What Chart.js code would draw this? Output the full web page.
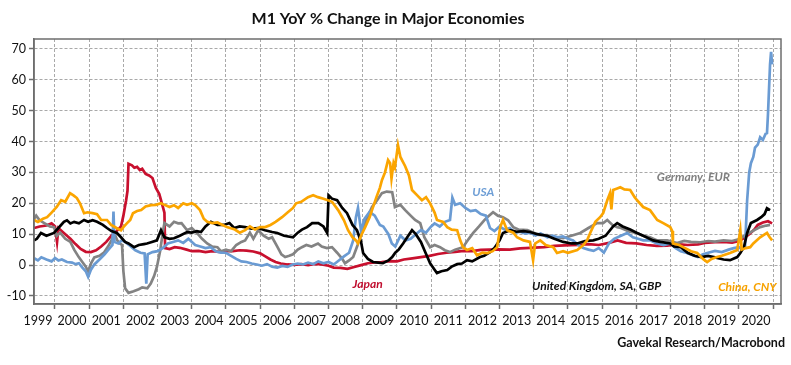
<!DOCTYPE html>
<html>
<head>
<meta charset="utf-8">
<script src="https://cdn.jsdelivr.net/npm/chart.js@4/dist/chart.umd.min.js"></script>
<style>
  html, body { margin: 0; padding: 0; background: #fff; }
  #wrap { width: 791px; height: 365px; }
</style>
</head>
<body>
<div id="wrap"><canvas id="chart" width="791" height="365"></canvas></div>
<script>
// M1 YoY % change
// each point is [fractional year, % yoy]

const japan = [[1999.39,12.0],[1999.55,12.5],[1999.75,12.8],[1999.9,13.5],[2000.0,12.5],[2000.06,7.5],[2000.1,12.0],[2000.25,10.5],[2000.45,8.5],[2000.6,6.8],[2000.75,5.2],[2000.9,4.3],[2001.05,4.2],[2001.2,4.8],[2001.35,6.0],[2001.5,7.5],[2001.65,9.5],[2001.8,11.0],[2001.93,12.5],[2002.0,16],[2002.08,21],[2002.12,24],[2002.15,32.8],[2002.25,32.3],[2002.32,31.5],[2002.4,31.8],[2002.48,30.8],[2002.55,31.2],[2002.65,29.5],[2002.75,29],[2002.85,28.2],[2002.95,25],[2003.05,23],[2003.15,19],[2003.2,17],[2003.22,5.5],[2003.35,5.2],[2003.5,5.8],[2003.65,5.6],[2003.85,5.0],[2004.0,4.5],[2004.2,4.6],[2004.4,4.2],[2004.6,4.5],[2004.8,4.3],[2005.0,4.6],[2005.2,4.5],[2005.4,4.8],[2005.6,4.7],[2005.8,4.4],[2006.0,3.8],[2006.15,2.8],[2006.3,1.8],[2006.45,1.0],[2006.6,0.5],[2006.8,0.2],[2007.0,0.1],[2007.2,0.3],[2007.4,0.0],[2007.6,0.4],[2007.8,0.2],[2008.0,-0.2],[2008.15,-0.8],[2008.35,-0.9],[2008.55,-1.2],[2008.75,-0.6],[2008.95,0],[2009.15,0.6],[2009.35,0.9],[2009.55,1.0],[2009.8,1.3],[2010.0,1.2],[2010.2,1.8],[2010.45,2.2],[2010.7,2.6],[2010.95,3.0],[2011.2,3.6],[2011.45,4.0],[2011.7,4.3],[2011.95,4.6],[2012.2,4.5],[2012.45,4.9],[2012.7,5.0],[2012.95,5.1],[2013.3,5.0],[2013.6,5.4],[2013.9,5.6],[2014.3,5.8],[2014.6,6.2],[2014.9,6.4],[2015.3,6.5],[2015.6,6.8],[2015.9,6.5],[2016.2,7.2],[2016.45,8.0],[2016.7,7.2],[2017.0,7.0],[2017.3,6.5],[2017.6,6.2],[2017.9,6.3],[2018.2,6.8],[2018.5,6.5],[2018.8,6.7],[2019.0,7.2],[2019.3,7.4],[2019.55,7.5],[2019.8,7.3],[2020.0,7.8],[2020.15,8.7],[2020.3,10],[2020.45,11.5],[2020.55,13],[2020.7,13.8],[2020.85,14.2],[2020.97,13.5]];

const usa = [[1999.39,2.2],[1999.5,1.5],[1999.6,2.5],[1999.75,1.8],[1999.9,1.2],[2000.0,2.3],[2000.1,1.5],[2000.2,1.8],[2000.35,1.0],[2000.5,0.8],[2000.6,0.3],[2000.7,0.6],[2000.8,-0.8],[2000.9,-2.0],[2000.97,-3.8],[2001.05,-1.5],[2001.15,0.2],[2001.3,1.8],[2001.45,3.5],[2001.6,5.5],[2001.68,6.5],[2001.71,17.3],[2001.74,7.5],[2001.85,7.0],[2001.95,8.0],[2002.05,7.5],[2002.2,6.2],[2002.35,4.8],[2002.5,4.0],[2002.62,3.8],[2002.67,-6.0],[2002.71,3.5],[2002.85,4.2],[2003.0,4.5],[2003.15,5.5],[2003.3,7.0],[2003.45,7.5],[2003.6,8.0],[2003.75,7.2],[2003.9,8.5],[2004.1,6.5],[2004.25,6.0],[2004.4,5.5],[2004.55,5.8],[2004.7,4.5],[2004.85,4.0],[2005.0,4.0],[2005.15,3.0],[2005.3,2.0],[2005.45,1.2],[2005.6,1.0],[2005.75,0.5],[2005.9,0.2],[2006.05,-0.2],[2006.2,0.3],[2006.35,-0.5],[2006.5,-0.8],[2006.65,-0.3],[2006.8,-0.6],[2006.95,0.2],[2007.1,0.5],[2007.25,0.2],[2007.4,0.8],[2007.55,0.3],[2007.7,1.2],[2007.85,0.6],[2008.0,1.0],[2008.15,0.2],[2008.3,1.5],[2008.45,2.8],[2008.6,4.0],[2008.72,8.0],[2008.8,15.5],[2008.86,18.5],[2008.95,11],[2009.05,15],[2009.2,17.2],[2009.35,16],[2009.5,13],[2009.6,12.5],[2009.75,10],[2009.85,7],[2009.95,6.0],[2010.1,9.5],[2010.25,8],[2010.4,8.5],[2010.55,10],[2010.7,11.3],[2010.85,10.5],[2011.0,12.5],[2011.1,13.5],[2011.25,12.5],[2011.4,14],[2011.55,14.6],[2011.62,21.8],[2011.7,19.5],[2011.85,20],[2012.0,18.5],[2012.15,17.5],[2012.3,17.8],[2012.45,16.5],[2012.6,16.0],[2012.72,12],[2012.85,11],[2013.0,12.5],[2013.15,11.5],[2013.3,12],[2013.45,10.4],[2013.6,10.8],[2013.75,10.2],[2013.9,10.5],[2014.05,9.6],[2014.2,10.2],[2014.4,9.0],[2014.55,9.5],[2014.7,9.0],[2014.85,9.3],[2015.0,8.5],[2015.15,8.0],[2015.3,6.5],[2015.45,5.5],[2015.6,5.0],[2015.75,4.6],[2015.9,5.5],[2016.05,4.0],[2016.2,7.0],[2016.35,8.5],[2016.55,9.5],[2016.73,10.4],[2016.9,9.0],[2017.05,8.5],[2017.2,8.0],[2017.4,8.0],[2017.6,7.0],[2017.8,6.5],[2018.0,7.0],[2018.15,5.5],[2018.3,4.5],[2018.48,3.9],[2018.65,3.2],[2018.8,2.6],[2018.95,3.5],[2019.1,4.0],[2019.3,4.6],[2019.5,4.2],[2019.7,5.0],[2019.85,5.5],[2020.0,5.8],[2020.1,5.0],[2020.18,6.0],[2020.24,21],[2020.3,30],[2020.35,33],[2020.42,35],[2020.47,38],[2020.55,39],[2020.62,41.4],[2020.7,40.5],[2020.78,42.5],[2020.82,42.7],[2020.85,49],[2020.91,65],[2020.94,69],[2020.97,65]];

const germany = [[1999.39,15],[1999.45,16],[1999.55,14.5],[1999.7,13.5],[1999.85,12.5],[1999.97,12.3],[2000.05,9.5],[2000.15,10.5],[2000.3,8.5],[2000.45,7.5],[2000.56,5.0],[2000.7,2.5],[2000.8,1.0],[2000.9,-0.5],[2000.97,-2.0],[2001.05,0.5],[2001.15,2.5],[2001.3,3.0],[2001.43,4.0],[2001.55,6.0],[2001.65,8.0],[2001.73,10.5],[2001.82,8.0],[2001.9,7.0],[2001.96,6.5],[2002.0,-2],[2002.05,-7.5],[2002.15,-9.0],[2002.3,-8.5],[2002.45,-7.8],[2002.55,-7.2],[2002.7,-7.5],[2002.8,-6.0],[2002.9,-3.5],[2002.98,-0.6],[2003.08,4.9],[2003.15,10.5],[2003.2,13.6],[2003.35,12.5],[2003.48,14.0],[2003.6,13.5],[2003.7,13.6],[2003.86,11.3],[2004.0,12.0],[2004.15,10.4],[2004.3,8.5],[2004.45,7.0],[2004.6,6.0],[2004.75,5.8],[2004.85,4.5],[2005.0,5.0],[2005.15,4.5],[2005.3,6.5],[2005.45,7.5],[2005.56,8.0],[2005.7,10.5],[2005.8,8.5],[2005.94,11.3],[2006.1,9.5],[2006.25,8.5],[2006.35,9.0],[2006.5,6.0],[2006.62,3.5],[2006.73,2.6],[2006.85,3.0],[2006.96,3.5],[2007.1,5.0],[2007.22,5.8],[2007.35,6.5],[2007.5,6.0],[2007.69,7.0],[2007.8,6.0],[2007.95,5.5],[2008.1,5.8],[2008.25,4.0],[2008.4,2.0],[2008.48,0.6],[2008.6,1.5],[2008.72,2.6],[2008.85,6.5],[2008.98,11.3],[2009.1,14.5],[2009.27,18.8],[2009.42,21],[2009.56,23.3],[2009.7,23.8],[2009.86,23.6],[2009.94,18.8],[2010.1,19.5],[2010.24,17.8],[2010.4,16],[2010.53,14.6],[2010.68,13.6],[2010.8,9.0],[2010.97,5.8],[2011.1,6.5],[2011.26,5.8],[2011.4,4.8],[2011.55,4.2],[2011.7,5.0],[2011.93,5.8],[2012.1,8.5],[2012.23,10.4],[2012.4,12.5],[2012.55,14.5],[2012.64,15.5],[2012.81,17.1],[2012.95,16.0],[2013.1,15.5],[2013.25,14.5],[2013.4,12.3],[2013.55,11.5],[2013.81,11.3],[2014.0,10.5],[2014.15,9.8],[2014.39,9.7],[2014.6,9.0],[2014.86,8.7],[2015.1,9.5],[2015.36,10.4],[2015.6,12.0],[2015.85,13.6],[2016.03,13.6],[2016.15,14.6],[2016.3,13],[2016.44,12.3],[2016.55,12.0],[2016.8,10.8],[2017.02,10.4],[2017.2,9.5],[2017.4,9.0],[2017.61,8.0],[2017.9,8.0],[2018.19,7.1],[2018.4,7.8],[2018.6,7.5],[2018.87,7.4],[2019.1,7.8],[2019.3,7.6],[2019.55,8.0],[2019.8,7.8],[2020.04,8.5],[2020.15,9.5],[2020.3,10.4],[2020.45,11.3],[2020.62,12.3],[2020.8,12.8],[2020.91,13]];

const uk = [[1999.39,8],[1999.47,8.5],[1999.59,10.4],[1999.75,9.5],[1999.97,10.4],[2000.1,12],[2000.26,14],[2000.35,14.5],[2000.45,13.5],[2000.56,14],[2000.7,13.5],[2000.85,14.6],[2000.97,14.0],[2001.1,14.5],[2001.23,14],[2001.4,13.0],[2001.52,12],[2001.65,11.0],[2001.81,10.4],[2001.93,9.0],[2002.05,7.5],[2002.15,7.0],[2002.31,5.8],[2002.45,6.5],[2002.6,6.8],[2002.69,7.0],[2002.81,7.4],[2002.98,8.0],[2003.1,11.3],[2003.2,9.0],[2003.35,8.5],[2003.48,8.7],[2003.65,9.5],[2003.86,10.7],[2004.0,10.5],[2004.15,11],[2004.27,10.7],[2004.4,12.5],[2004.56,14.0],[2004.75,13.0],[2004.94,13.0],[2005.1,13.6],[2005.24,12.0],[2005.4,12.5],[2005.56,12.3],[2005.75,11.8],[2005.94,12.0],[2006.14,11.3],[2006.35,10.7],[2006.5,10.4],[2006.7,9.5],[2006.96,9.0],[2007.1,10.5],[2007.22,11.5],[2007.37,12.3],[2007.52,13.6],[2007.7,13.6],[2007.85,12.5],[2007.96,10.4],[2008.0,22.6],[2008.1,21.5],[2008.25,21],[2008.4,18.5],[2008.54,16.8],[2008.7,13],[2008.83,11.3],[2008.95,7.5],[2009.01,3.9],[2009.15,2.0],[2009.3,1.0],[2009.45,0.8],[2009.59,0.6],[2009.75,1.5],[2009.86,2.6],[2009.95,4.0],[2010.05,5.0],[2010.18,7.0],[2010.3,9.0],[2010.44,11.3],[2010.55,10],[2010.7,7.5],[2010.8,4.9],[2010.97,0.6],[2011.1,-1.5],[2011.17,-2.6],[2011.3,-2.0],[2011.47,-1.6],[2011.6,-0.5],[2011.76,0.3],[2011.9,0.5],[2012.05,1.6],[2012.2,1.2],[2012.43,2.6],[2012.55,3.0],[2012.72,4.2],[2012.85,5.5],[2013.0,8],[2013.1,10.4],[2013.31,11.3],[2013.5,10.8],[2013.7,11.0],[2013.89,10.7],[2014.1,10.0],[2014.39,9.5],[2014.6,8.5],[2014.86,7.5],[2015.1,7.0],[2015.27,7.0],[2015.5,7.8],[2015.74,8.0],[2015.9,8.5],[2016.1,9.5],[2016.32,12.5],[2016.44,13.6],[2016.6,12.5],[2016.82,11.5],[2017.02,10.4],[2017.2,9.5],[2017.49,8.0],[2017.7,7.5],[2017.99,7.0],[2018.1,6.0],[2018.3,5.8],[2018.5,4.0],[2018.7,3.0],[2018.9,2.6],[2019.1,3.0],[2019.3,2.5],[2019.55,1.8],[2019.74,1.6],[2019.95,2.6],[2020.04,3.9],[2020.15,6.0],[2020.24,10.4],[2020.35,13.6],[2020.53,14.6],[2020.65,15.5],[2020.75,16.5],[2020.82,18.4],[2020.91,17.8]];

const china = [[1999.39,14.6],[1999.5,14.0],[1999.65,15.0],[1999.77,15.5],[1999.9,17.0],[2000.05,18.8],[2000.18,21],[2000.3,20.5],[2000.44,23.3],[2000.55,22.5],[2000.64,21.7],[2000.73,20],[2000.85,16.8],[2000.95,17.1],[2001.1,16.8],[2001.23,16.5],[2001.35,14.6],[2001.52,14.6],[2001.64,13],[2001.8,12.0],[2001.93,11.3],[2002.0,12.3],[2002.1,13.5],[2002.2,14.6],[2002.28,16.8],[2002.4,17.5],[2002.52,17.8],[2002.65,19.0],[2002.81,19.4],[2002.95,19.5],[2003.1,20],[2003.2,19.5],[2003.35,18.8],[2003.48,19.4],[2003.6,18.5],[2003.75,20],[2003.86,19.5],[2004.0,20],[2004.1,19.4],[2004.24,17.8],[2004.35,15.0],[2004.45,14.0],[2004.6,13.6],[2004.75,13.8],[2004.9,13.0],[2005.03,12.3],[2005.12,12.0],[2005.26,11.5],[2005.4,10.5],[2005.56,11.3],[2005.7,12.5],[2005.85,11.5],[2006.0,12.3],[2006.15,12.3],[2006.3,13.0],[2006.45,14.0],[2006.64,15.5],[2006.8,17.0],[2006.96,18.5],[2007.05,20],[2007.2,20.5],[2007.4,22],[2007.55,22.6],[2007.69,22],[2007.85,21.5],[2007.98,21],[2008.1,20.5],[2008.28,17.8],[2008.45,14.5],[2008.57,11.3],[2008.7,9.0],[2008.8,8],[2008.86,7],[2008.95,9.5],[2009.07,12.3],[2009.2,15.5],[2009.27,17.8],[2009.4,22],[2009.5,25],[2009.56,27.5],[2009.65,30],[2009.74,34],[2009.8,33],[2009.84,28],[2009.9,33],[2009.94,31.7],[2010.03,38.8],[2010.1,35],[2010.24,32],[2010.35,29],[2010.44,24.3],[2010.6,22.5],[2010.73,21],[2010.85,22],[2010.97,20],[2011.1,17],[2011.17,14.6],[2011.35,14],[2011.47,12.3],[2011.6,11.5],[2011.76,11.3],[2011.85,8],[2011.93,5.8],[2012.05,4.9],[2012.2,5.5],[2012.34,3.2],[2012.5,4.0],[2012.64,3.9],[2012.8,4.5],[2012.93,5.8],[2013.02,12.3],[2013.1,14.6],[2013.22,11.3],[2013.4,10.5],[2013.51,9.0],[2013.7,8.0],[2013.89,7.5],[2013.98,1.6],[2014.04,7.0],[2014.19,8.0],[2014.35,6.5],[2014.57,5.8],[2014.68,3.9],[2014.86,4.5],[2015.0,4.0],[2015.27,4.9],[2015.45,6.5],[2015.56,8],[2015.65,10.4],[2015.8,14],[2015.94,15.5],[2016.03,16.8],[2016.15,21],[2016.23,23.3],[2016.27,18],[2016.32,24.3],[2016.44,24.8],[2016.53,25.2],[2016.65,24.5],[2016.82,24.3],[2016.95,22],[2017.02,21],[2017.2,18.8],[2017.4,17.8],[2017.61,14.6],[2017.8,13.5],[2017.99,12.3],[2018.05,11],[2018.07,7],[2018.25,6.5],[2018.37,5.8],[2018.6,4.5],[2018.78,3.9],[2018.95,2.0],[2019.07,1.0],[2019.2,2.0],[2019.36,2.6],[2019.5,3.0],[2019.74,3.9],[2019.95,4.9],[2020.04,11.3],[2020.08,5.0],[2020.2,5.5],[2020.33,5.8],[2020.42,7.0],[2020.62,9.0],[2020.82,10.4],[2020.9,9.0],[2020.97,8.0]];

const yTicks = [-10, 0, 10, 20, 30, 40, 50, 60, 70];
const yearBounds = [2000, 2001, 2002, 2003, 2004, 2005, 2006, 2007, 2008, 2009, 2010,
  2011, 2012, 2013, 2014, 2015, 2016, 2017, 2018, 2019, 2020, 2021];
const yearLabels = [1999, 2000, 2001, 2002, 2003, 2004, 2005, 2006, 2007, 2008, 2009,
  2010, 2011, 2012, 2013, 2014, 2015, 2016, 2017, 2018, 2019, 2020];

const FONT = 'Lato, "Open Sans", sans-serif';
const GRID = '#a9a9a9';
const AXIS = '#6e6e6e';

// series name labels placed in data coordinates
const seriesLabels = [
  { text: 'USA', x: 2012.2, y: 23.6, color: '#6f9fd6', align: 'left' },
  { text: 'Germany, EUR', x: 2017.6, y: 28.5, color: '#7f7f7f', align: 'left' },
  { text: 'Japan', x: 2008.7, y: -6.3, color: '#c00d2e', align: 'left' },
  { text: 'United Kingdom, SA, GBP', x: 2013.95, y: -6.8, color: '#111', align: 'left' },
  { text: 'China, CNY', x: 2021.1, y: -7.1, color: '#f7a200', align: 'right' }
];

const toXY = arr => arr.map(p => ({ x: p[0], y: p[1] }));

function series(label, arr, color) {
  return {
    label,
    data: toXY(arr),
    borderColor: color,
    borderWidth: 2.7,
    pointRadius: 0,
    tension: 0,
    fill: false
  };
}

// integer years carry the grid; half years only carry the labels
const isYear = c => c.tick && Math.abs(c.tick.value % 1) < 1e-6;

const textPlugin = {
  id: 'texts',
  afterDatasetsDraw(chart) {
    const { ctx, chartArea: a, scales } = chart;
    ctx.save();
    // frame around the plot
    ctx.strokeStyle = AXIS;
    ctx.lineWidth = 1.5;
    ctx.strokeRect(a.left, a.top, a.right - a.left, a.bottom - a.top);

    ctx.textBaseline = 'middle';
    ctx.font = 'italic 700 12px ' + FONT;
    seriesLabels.forEach(l => {
      ctx.fillStyle = l.color;
      ctx.textAlign = l.align;
      ctx.fillText(l.text, scales.x.getPixelForValue(l.x), scales.y.getPixelForValue(l.y));
    });
    ctx.restore();
  },
  afterDraw(chart) {
    const { ctx } = chart;
    ctx.save();
    ctx.fillStyle = '#111';
    ctx.textBaseline = 'middle';
    ctx.textAlign = 'center';
    ctx.font = '700 16px ' + FONT;
    ctx.fillText('M1 YoY % Change in Major Economies', 388, 19);
    ctx.textAlign = 'right';
    ctx.font = '700 12.5px ' + FONT;
    ctx.fillText('Gavekal Research/Macrobond', 785, 343);
    ctx.restore();
  }
};

new Chart(document.getElementById('chart'), {
  type: 'line',
  data: {
    datasets: [
      series('China, CNY', china, '#fba500'),
      series('United Kingdom, SA, GBP', uk, '#000000'),
      series('USA', usa, '#6a9bd3'),
      series('Germany, EUR', germany, '#838383'),
      series('Japan', japan, '#c8102e')
    ]
  },
  options: {
    responsive: false,
    animation: false,
    layout: { padding: { top: 39, right: 10, left: 0, bottom: 0 } },
    plugins: {
      legend: { display: false },
      tooltip: { enabled: false }
    },
    scales: {
      x: {
        type: 'linear',
        min: 1999.386,
        max: 2021.23,
        afterBuildTicks: s => {
          s.ticks = yearBounds.concat(yearLabels.map(y => y + 0.5)).map(v => ({ value: v }));
        },
        afterFit: s => { s.height = 61; },
        ticks: {
          autoSkip: false,
          maxRotation: 0,
          padding: 4,
          color: '#111',
          font: { family: FONT, size: 12.5 },
          callback: v => (Math.abs(v % 1) > 1e-6 ? String(Math.floor(v)) : '')
        },
        grid: {
          color: c => (isYear(c) ? GRID : 'rgba(0,0,0,0)'),
          tickColor: c => (isYear(c) ? AXIS : 'rgba(0,0,0,0)'),
          tickLength: 5,
          tickWidth: 1.5,
          tickBorderDash: [],
          lineWidth: 1
        },
        border: { display: true, color: AXIS, width: 1.5, dash: [3, 2] }
      },
      y: {
        min: -12.6,
        max: 73.2,
        afterBuildTicks: s => { s.ticks = yTicks.map(v => ({ value: v })); },
        afterFit: s => { s.width = 34; },
        ticks: {
          padding: 3,
          color: '#111',
          font: { family: FONT, size: 12.5 }
        },
        grid: {
          color: GRID,
          tickColor: AXIS,
          tickLength: 5,
          tickWidth: 1.5,
          tickBorderDash: [],
          lineWidth: 1
        },
        border: { display: true, color: AXIS, width: 1.5, dash: [3, 2] }
      }
    }
  },
  plugins: [textPlugin]
});
</script>
</body>
</html>
